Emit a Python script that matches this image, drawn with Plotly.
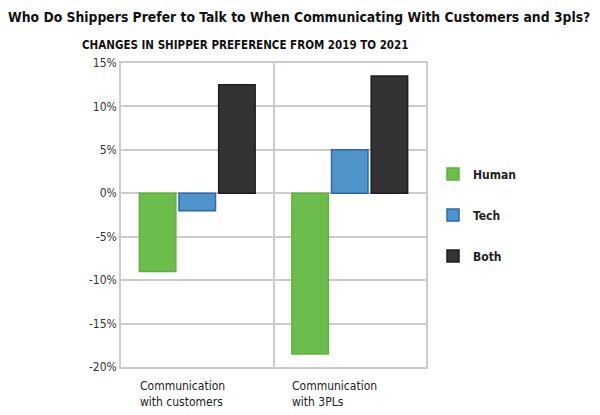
import plotly.graph_objects as go

categories = ["Communication<br>with customers", "Communication<br>with 3PLs"]
series_names = ["Human", "Tech", "Both"]
human = [-9.0, -18.5]
tech = [-2.0, 5.0]
both = [12.5, 13.5]
y_tick_vals = [15, 10, 5, 0, -5, -10, -15, -20]
y_tick_text = ["15%", "10%", "5%", "0%", "-5%", "-10%", "-15%", "-20%"]

FONT = "Liberation Sans Narrow, DejaVu Sans Condensed, Arial Narrow, sans-serif"

W, H = 592, 407
L, R, T, B = 113, 174, 55, 48
PW, PH = W - L - R, H - T - B

x_pos = [0.5, 1.5]
fills = ["#6CBD4B", "#4F94C9", "#333333"]
edges = ["#5DB43D", "#2E66AE", "#1E1E1E"]
values = [human, tech, both]

fig = go.Figure()
for name, vals, fc, ec in zip(series_names, values, fills, edges):
    fig.add_trace(go.Bar(
        x=x_pos, y=vals, name=name,
        marker=dict(color=fc, line=dict(color=ec, width=1.5)),
        legendgroup=name,
    ))

for xp, cat in zip(x_pos, categories):
    fig.add_annotation(
        x=xp - 0.39, y=0, xref="x", yref="paper", yanchor="top",
        xanchor="left", align="left", yshift=-10,
        text=cat, showarrow=False,
        font=dict(family=FONT, size=12, color="#222222"),
    )

fig.add_annotation(
    x=(72 - L) / PW, y=(H - B - 37) / PH, xref="paper", yref="paper",
    xanchor="left", yanchor="middle", showarrow=False,
    text="<b>CHANGES IN SHIPPER PREFERENCE FROM 2019 TO 2021</b>",
    font=dict(family=FONT, size=11.5, color="#111111"),
)

fig.update_layout(
    width=W, height=H,
    margin=dict(l=L, r=R, t=T, b=B),
    paper_bgcolor="white", plot_bgcolor="white",
    barmode="group", bargap=0.22, bargroupgap=0.08,
    font=dict(family=FONT, color="#222222"),
    title=dict(
        text="<b>Who Do Shippers Prefer to Talk to When Communicating With Customers and 3pls?</b>",
        x=0.0, xanchor="left", y=1 - 9 / H, yanchor="middle",
        font=dict(family=FONT, size=13.8, color="#111111"),
    ),
    legend=dict(
        x=1.023, y=0.5, xanchor="left", yanchor="middle",
        font=dict(family=FONT, size=12, color="#222222", weight="bold"),
        traceorder="grouped", tracegroupgap=22,
        itemclick=False,
    ),
    xaxis=dict(
        range=[0, 2], tickvals=[0, 1, 2], showticklabels=False,
        showgrid=True, gridcolor="#CCCCCC", gridwidth=1.5,
        showline=True, linecolor="#CCCCCC", linewidth=1.5, mirror=True,
        zeroline=False, ticks="",
    ),
    yaxis=dict(
        range=[-20, 15], tickvals=y_tick_vals, ticktext=y_tick_text,
        showgrid=True, gridcolor="#CCCCCC", gridwidth=1.5,
        showline=True, linecolor="#CCCCCC", linewidth=1.5, mirror=True,
        zeroline=False, ticks="", ticklen=0,
        tickfont=dict(family=FONT, size=12, color="#333333"),
    ),
)

fig.write_html("out.html")
